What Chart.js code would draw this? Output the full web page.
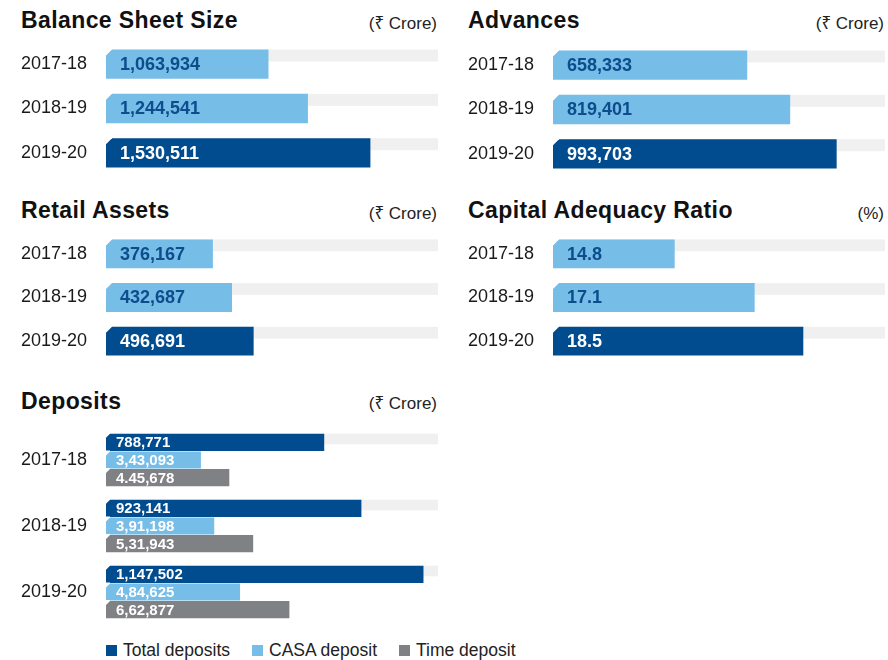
<!DOCTYPE html>
<html>
<head>
<meta charset="utf-8">
<script src="https://cdn.jsdelivr.net/npm/chart.js@4.4.0/dist/chart.umd.min.js"></script>
<style>
  body { margin: 0; background: #fff; width: 888px; height: 660px; position: relative; overflow: hidden;
         font-family: "Liberation Sans", Arial, "Noto Sans", sans-serif; color: #1a1a1a; }
  .title { position: absolute; font-weight: bold; font-size: 23px; line-height: 23px; letter-spacing: 0.4px; white-space: nowrap; color: #111; }
  .unit  { position: absolute; font-size: 17px; line-height: 17px; white-space: nowrap; text-align: right; color: #222; }
  canvas { position: absolute; }
  #legend { position: absolute; left: 106px; top: 642px; font-size: 17.5px; line-height: 17px; white-space: nowrap; color: #222; }
  #legend span.item { margin-right: 22px; }
  #legend i { display: inline-block; width: 11px; height: 11px; margin-right: 6px; vertical-align: baseline; }
</style>
</head>
<body>

<div class="title" style="left:21px;top:9px">Balance Sheet Size</div>
<div class="unit"  style="right:451px;top:15px">(₹ Crore)</div>
<div class="title" style="left:468px;top:9px">Advances</div>
<div class="unit"  style="right:4px;top:15px">(₹ Crore)</div>

<div class="title" style="left:21px;top:199px">Retail Assets</div>
<div class="unit"  style="right:451px;top:205px">(₹ Crore)</div>
<div class="title" style="left:468px;top:199px">Capital Adequacy Ratio</div>
<div class="unit"  style="right:4px;top:205px">(%)</div>

<div class="title" style="left:21px;top:390px">Deposits</div>
<div class="unit"  style="right:451px;top:395px">(₹ Crore)</div>

<canvas id="balance"  width="417" height="133" style="left:21px;top:42px"></canvas>
<canvas id="advances" width="417" height="133" style="left:468px;top:43px"></canvas>
<canvas id="retail"   width="417" height="131" style="left:21px;top:232px"></canvas>
<canvas id="car"      width="417" height="131" style="left:468px;top:232px"></canvas>
<canvas id="deposits" width="417" height="198" style="left:21px;top:427px"></canvas>
<div id="legend"></div>

<script>
const YEARS = ['2017-18', '2018-19', '2019-20'];

const BALANCE_SHEET    = [1063934, 1244541, 1530511];
const ADVANCES         = [658333, 819401, 993703];
const RETAIL_ASSETS    = [376167, 432687, 496691];
const CAPITAL_ADEQUACY = [14.8, 17.1, 18.5];

const TOTAL_DEPOSITS = [788771, 923141, 1147502];
const CASA_DEPOSITS  = [343093, 391198, 484625];
const TIME_DEPOSITS  = [445678, 531943, 662877];
// printed as in the report (lakh grouping, "4.45,678" included)
const CASA_TEXT = ['3,43,093', '3,91,198', '4,84,625'];
const TIME_TEXT = ['4.45,678', '5,31,943', '6,62,877'];

const DARK_BLUE  = '#004c8f';
const LIGHT_BLUE = '#76bde8';
const GREY       = '#808184';
const TRACK      = '#f0f0f0';
const INK_ON_LIGHT = '#0d4d8c';

Chart.defaults.font.family = '"Liberation Sans", Arial, "Noto Sans", sans-serif';

// grey track behind the first bar, chamfered corner, value text inside the bar
const barDecor = {
  id: 'barDecor',
  beforeDatasetsDraw(chart, args, opts) {
    const ctx = chart.ctx;
    const right = chart.scales.x.right;
    ctx.save();
    ctx.fillStyle = TRACK;
    chart.getDatasetMeta(0).data.forEach(el => {
      const top = el.y - el.height / 2;
      ctx.fillRect(el.base, top, right - el.base, el.height * opts.trackRatio);
    });
    ctx.restore();
  },
  afterDatasetsDraw(chart, args, opts) {
    const ctx = chart.ctx;
    ctx.save();
    chart.data.datasets.forEach((ds, di) => {
      chart.getDatasetMeta(di).data.forEach((el, i) => {
        const top = el.y - el.height / 2;
        const c = opts.chamfer;
        ctx.fillStyle = '#fff';
        ctx.beginPath();
        ctx.moveTo(el.base - 1, top - 1);
        ctx.lineTo(el.base + c, top - 1);
        ctx.lineTo(el.base + c, top);
        ctx.lineTo(el.base - 1, top + c + 1);
        ctx.closePath();
        ctx.fill();

        ctx.font = 'bold ' + opts.fontSize + 'px "Liberation Sans", Arial, sans-serif';
        ctx.textBaseline = 'middle';
        ctx.textAlign = 'left';
        ctx.fillStyle = opts.ink[di][i];
        ctx.fillText(opts.text[di][i], el.base + opts.pad, el.y + 1);
      });
    });
    ctx.restore();
  }
};

const fmt = v => v.toLocaleString('en-US');

function yAxis() {
  return {
    grid: { display: false },
    border: { display: false },
    ticks: { color: '#1a1a1a', font: { size: 18 }, padding: 0, crossAlign: 'far' },
    afterFit: s => {
      s.width = 85;
      // labels sit at category centres, no extra room needed above/below
      s.paddingTop = 0;
      s.paddingBottom = 0;
    }
  };
}

function singlePanel(id, values, min, max, text) {
  const colors = [LIGHT_BLUE, LIGHT_BLUE, DARK_BLUE];
  const ink = [INK_ON_LIGHT, INK_ON_LIGHT, '#fff'];
  return new Chart(document.getElementById(id), {
    type: 'bar',
    data: {
      labels: YEARS,
      datasets: [{
        data: values,
        base: min,
        backgroundColor: colors,
        borderWidth: 0,
        categoryPercentage: 0.66,
        barPercentage: 1
      }]
    },
    options: {
      indexAxis: 'y',
      responsive: false,
      animation: false,
      layout: { padding: 0 },
      scales: {
        x: { display: false, min, max },
        y: yAxis()
      },
      plugins: {
        legend: { display: false },
        tooltip: { enabled: false },
        barDecor: { trackRatio: 0.41, chamfer: 6, pad: 14, fontSize: 18, text: [text], ink: [ink] }
      }
    },
    plugins: [barDecor]
  });
}

singlePanel('balance',  BALANCE_SHEET,    320000, 1840000, BALANCE_SHEET.map(fmt));
singlePanel('advances', ADVANCES,         -70000, 1175000, ADVANCES.map(fmt));
singlePanel('retail',   RETAIL_ASSETS,     60000, 1042000, RETAIL_ASSETS.map(fmt));
singlePanel('car',      CAPITAL_ADEQUACY,  11.3,  20.85,   CAPITAL_ADEQUACY.map(v => v.toFixed(1)));

const deposits = new Chart(document.getElementById('deposits'), {
  type: 'bar',
  data: {
    labels: YEARS,
    datasets: [
      { label: 'Total deposits', data: TOTAL_DEPOSITS, backgroundColor: DARK_BLUE },
      { label: 'CASA deposit',   data: CASA_DEPOSITS,  backgroundColor: LIGHT_BLUE },
      { label: 'Time deposit',   data: TIME_DEPOSITS,  backgroundColor: GREY }
    ]
  },
  options: {
    indexAxis: 'y',
    responsive: false,
    animation: false,
    layout: { padding: 0 },
    datasets: { bar: { categoryPercentage: 0.805, barPercentage: 0.97, borderWidth: 0 } },
    scales: {
      x: { display: false, min: 0, max: 1200000 },
      y: yAxis()
    },
    plugins: {
      legend: { display: false },
      tooltip: { enabled: false },
      barDecor: {
        trackRatio: 0.62, chamfer: 4, pad: 10, fontSize: 15,
        text: [TOTAL_DEPOSITS.map(fmt), CASA_TEXT, TIME_TEXT],
        ink: [['#fff', '#fff', '#fff'], ['#fff', '#fff', '#fff'], ['#fff', '#fff', '#fff']]
      }
    }
  },
  plugins: [barDecor]
});

// html legend from the chart's own legend items
const legendEl = document.getElementById('legend');
Chart.defaults.plugins.legend.labels.generateLabels(deposits).forEach(item => {
  const span = document.createElement('span');
  span.className = 'item';
  const sw = document.createElement('i');
  sw.style.background = item.fillStyle;
  span.appendChild(sw);
  span.appendChild(document.createTextNode(item.text));
  legendEl.appendChild(span);
});
</script>
</body>
</html>
